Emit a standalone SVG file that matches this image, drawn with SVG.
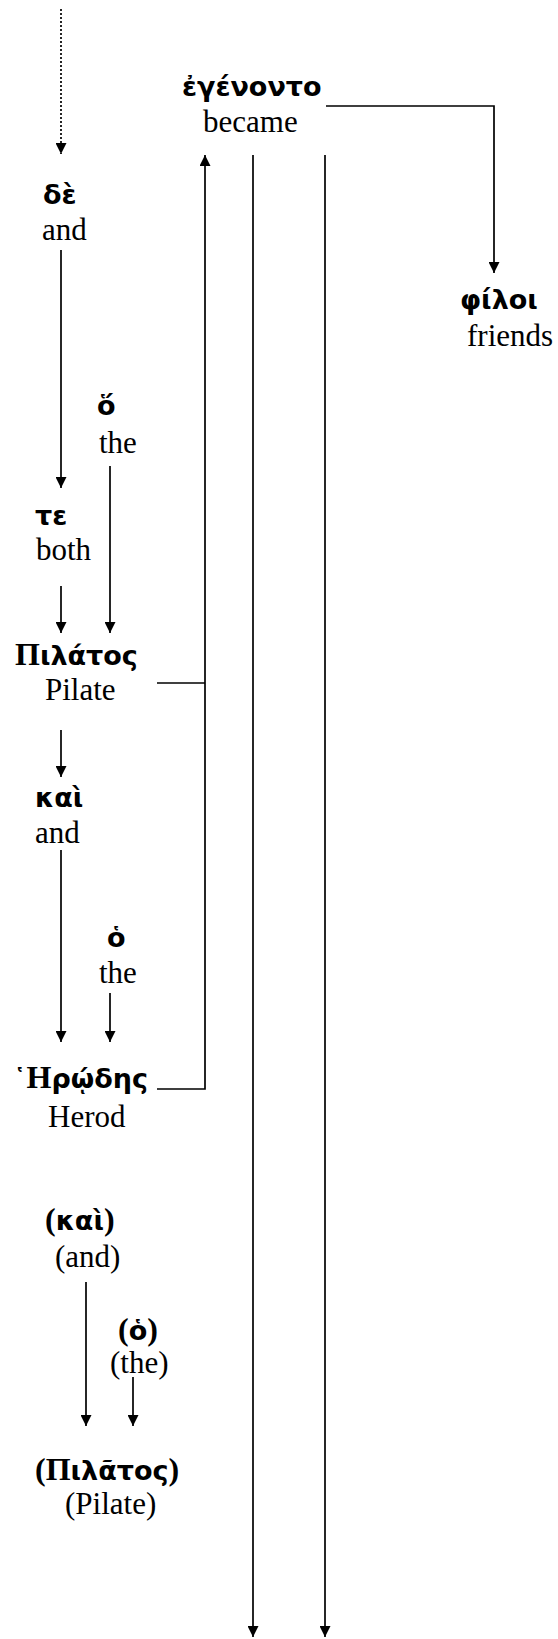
<svg xmlns="http://www.w3.org/2000/svg" width="558" height="1639" viewBox="0 0 558 1639">
<style>
.gk{font-family:"DejaVu Sans","Noto Sans",sans-serif;font-weight:bold;font-size:27px;fill:#000}
.sf{font-family:"Liberation Serif","Times New Roman",serif;font-weight:bold;font-size:32px}
.en{font-family:"Liberation Serif","Times New Roman",serif;font-size:31px;fill:#000}
.ln{fill:none;stroke:#000;stroke-width:1.7}
.ar{marker-end:url(#ah)}
.dot{stroke-dasharray:2 2}
</style>
<defs>
<marker id="ah" markerUnits="userSpaceOnUse" markerWidth="11" markerHeight="11" refX="11" refY="5.5" orient="auto">
<path d="M0,0 L11,5.5 L0,11 z" fill="#000"/>
</marker>
</defs>
<g id="connectors">
<path class="ln ar dot" d="M61 9 V154"/>
<path class="ln ar" d="M326 106 H494 V273"/>
<path class="ln ar" d="M61 250 V488"/>
<path class="ln ar" d="M110 466 V633"/>
<path class="ln ar" d="M61 586 V633"/>
<path class="ln" d="M157 683 H205"/>
<path class="ln ar" d="M61 730 V777"/>
<path class="ln ar" d="M61 850 V1042"/>
<path class="ln ar" d="M110 993 V1042"/>
<path class="ln ar" d="M157 1089 H205 V155"/>
<path class="ln ar" d="M86 1282 V1426"/>
<path class="ln ar" d="M133 1377 V1426"/>
<path class="ln ar" d="M253 155 V1637"/>
<path class="ln ar" d="M325 155 V1637"/>
</g>
<g id="node-egenonto">
<text class="gk" x="182" y="96">ἐγένοντο</text>
<text class="en" x="203" y="132">became</text>
</g>
<g id="node-philoi">
<text class="gk" x="460" y="309">φίλοι</text>
<text class="en" x="467" y="346">friends</text>
</g>
<g id="node-de">
<text class="gk" x="43" y="204">δὲ</text>
<text class="en" x="42" y="240">and</text>
</g>
<g id="node-ho1">
<text class="gk" x="97" y="415">ὅ</text>
<text class="en" x="99" y="453">the</text>
</g>
<g id="node-te">
<text class="gk" x="35" y="525">τε</text>
<text class="en" x="36" y="560">both</text>
</g>
<g id="node-pilatos">
<text class="gk" x="15" y="665"><tspan class="sf">Π</tspan>ιλάτος</text>
<text class="en" x="45" y="700">Pilate</text>
</g>
<g id="node-kai">
<text class="gk" x="35" y="807">καὶ</text>
<text class="en" x="35" y="843">and</text>
</g>
<g id="node-ho2">
<text class="gk" x="107" y="947">ὁ</text>
<text class="en" x="99" y="983">the</text>
</g>
<g id="node-herodes">
<text class="gk" x="13" y="1088">῾<tspan class="sf">Η</tspan>ρῴδης</text>
<text class="en" x="48" y="1127">Herod</text>
</g>
<g id="node-kai2">
<text class="gk" x="45" y="1230"><tspan class="sf">(</tspan>καὶ<tspan class="sf">)</tspan></text>
<text class="en" x="55" y="1267">(and)</text>
</g>
<g id="node-ho3">
<text class="gk" x="118" y="1340"><tspan class="sf">(</tspan>ὁ<tspan class="sf">)</tspan></text>
<text class="en" x="110" y="1373">(the)</text>
</g>
<g id="node-pilatos2">
<text class="gk" x="35" y="1480"><tspan class="sf">(Π</tspan>ιλᾶτος<tspan class="sf">)</tspan></text>
<text class="en" x="65" y="1514">(Pilate)</text>
</g>
</svg>
